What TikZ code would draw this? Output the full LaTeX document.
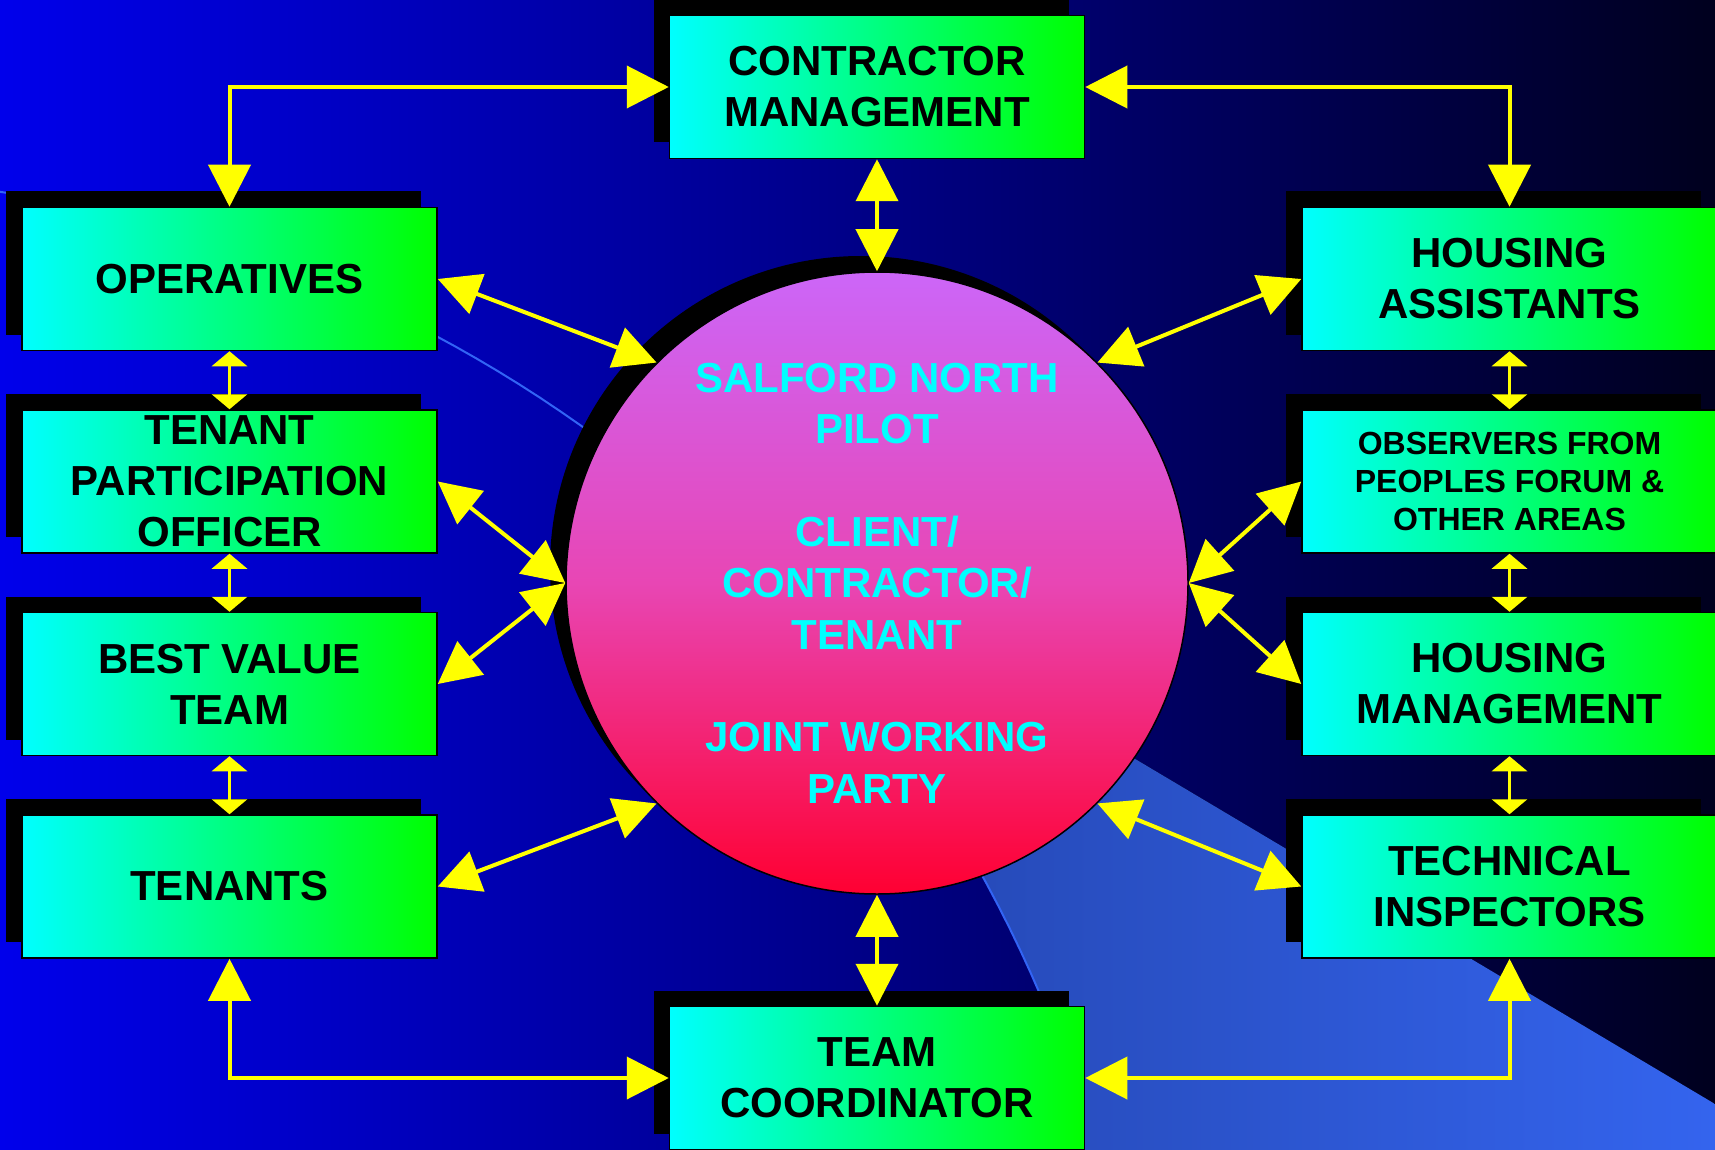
\documentclass[tikz,border=0pt]{standalone}
\usepackage{fontspec}
\setmainfont{Liberation Sans}
\usetikzlibrary{arrows.meta,shadows}
\definecolor{bgleft}{RGB}{0,0,235}
\definecolor{bgmid}{RGB}{0,0,135}
\definecolor{bgright}{RGB}{0,0,30}
\definecolor{wedgeleft}{RGB}{36,70,176}
\definecolor{wedgeright}{RGB}{52,100,238}
\definecolor{arcline}{RGB}{50,100,245}
\definecolor{circtop}{RGB}{204,102,248}
\definecolor{circmid}{RGB}{232,70,180}
\definecolor{circbot}{RGB}{255,0,50}
\definecolor{arrowyellow}{RGB}{255,255,0}
\definecolor{brightcyan}{RGB}{0,255,255}
\definecolor{brightgreen}{RGB}{0,255,0}
\begin{document}
\begin{tikzpicture}[x=1pt,y=-1pt,
      unitbox/.style={draw=black,line width=1.5pt,left color=brightcyan,right color=brightgreen,
        minimum width=415pt,minimum height=143pt,inner sep=0pt,align=center,
        font=\bfseries\fontsize{42}{51}\selectfont,
        general shadow={fill=black,shadow xshift=-16pt,shadow yshift=16pt}},
      bigarr/.style={draw=arrowyellow,line width=4pt,
        {Triangle[length=42pt,width=42pt]}-{Triangle[length=42pt,width=42pt]}},
      smallarr/.style={draw=arrowyellow,line width=3.5pt,
        {Triangle[length=15pt,width=35pt]}-{Triangle[length=15pt,width=35pt]}}]
      \useasboundingbox (0,0) rectangle (1715,1150);
      \fill[left color=bgleft,right color=bgright,middle color=bgmid] (0,0) rectangle (1715,1150);
      \fill[left color=wedgeleft,right color=wedgeright] (900,619) -- (1715,1104) -- (1715,1150) -- (1070,1150)
        -- plot[domain=20:40] ({-199+1348*cos(\x)},{1525-1348*sin(\x)}) -- cycle;
      \draw[arcline,line width=2pt] plot[domain=20:82,samples=60] ({-199+1348*cos(\x)},{1525-1348*sin(\x)});
      \node[unitbox] (cm) at (877,87) {CONTRACTOR\\MANAGEMENT};
      \node[unitbox] (opr) at (229.5,279) {OPERATIVES};
      \node[unitbox] (tpo) at (229.5,481.5) {TENANT\\PARTICIPATION\\OFFICER};
      \node[unitbox] (bvt) at (229.5,684) {BEST VALUE\\TEAM};
      \node[unitbox] (ten) at (229.5,886.5) {TENANTS};
      \node[unitbox] (ha) at (1509.5,279) {HOUSING\\ASSISTANTS};
      \node[unitbox,font=\bfseries\fontsize{32}{38}\selectfont] (obs) at (1509.5,481.5)
        {OBSERVERS FROM\\PEOPLES FORUM \&\\OTHER AREAS};
      \node[unitbox] (hm) at (1509.5,684) {HOUSING\\MANAGEMENT};
      \node[unitbox] (ti) at (1509.5,886.5) {TECHNICAL\\INSPECTORS};
      \node[unitbox] (tc) at (877,1078) {TEAM\\COORDINATOR};
      \node[circle,minimum size=622pt,inner sep=0pt,draw=black,line width=1.5pt,
        top color=circtop,bottom color=circbot,middle color=circmid,
        general shadow={fill=black,shadow xshift=-16pt,shadow yshift=16pt},
        text=brightcyan,align=center,font=\bfseries\fontsize{42}{51.4}\selectfont] (pilot) at (877,583)
        {SALFORD NORTH\\PILOT\\[51.4pt]CLIENT/\\CONTRACTOR/\\TENANT\\[51.4pt]JOINT WORKING\\PARTY};
      \draw[bigarr] (opr.north) |- (cm.west);
      \draw[bigarr] (ha.north) |- (cm.east);
      \draw[bigarr] (ten.south) |- (tc.west);
      \draw[bigarr] (ti.south) |- (tc.east);
      \draw[bigarr] (cm.south) -- (pilot.north);
      \draw[bigarr] (pilot.south) -- (tc.north);
      \draw[bigarr] (opr.east) -- (pilot.135);
      \draw[bigarr] (tpo.east) -- (pilot.west);
      \draw[bigarr] (bvt.east) -- (pilot.west);
      \draw[bigarr] (ten.east) -- (pilot.225);
      \draw[bigarr] (ha.west) -- (pilot.45);
      \draw[bigarr] (obs.west) -- (pilot.east);
      \draw[bigarr] (hm.west) -- (pilot.east);
      \draw[bigarr] (ti.west) -- (pilot.-45);
      \draw[smallarr] (opr.south) -- (tpo.north);
      \draw[smallarr] (tpo.south) -- (bvt.north);
      \draw[smallarr] (bvt.south) -- (ten.north);
      \draw[smallarr] (ha.south) -- (obs.north);
      \draw[smallarr] (obs.south) -- (hm.north);
      \draw[smallarr] (hm.south) -- (ti.north);
\end{tikzpicture}
\end{document}
